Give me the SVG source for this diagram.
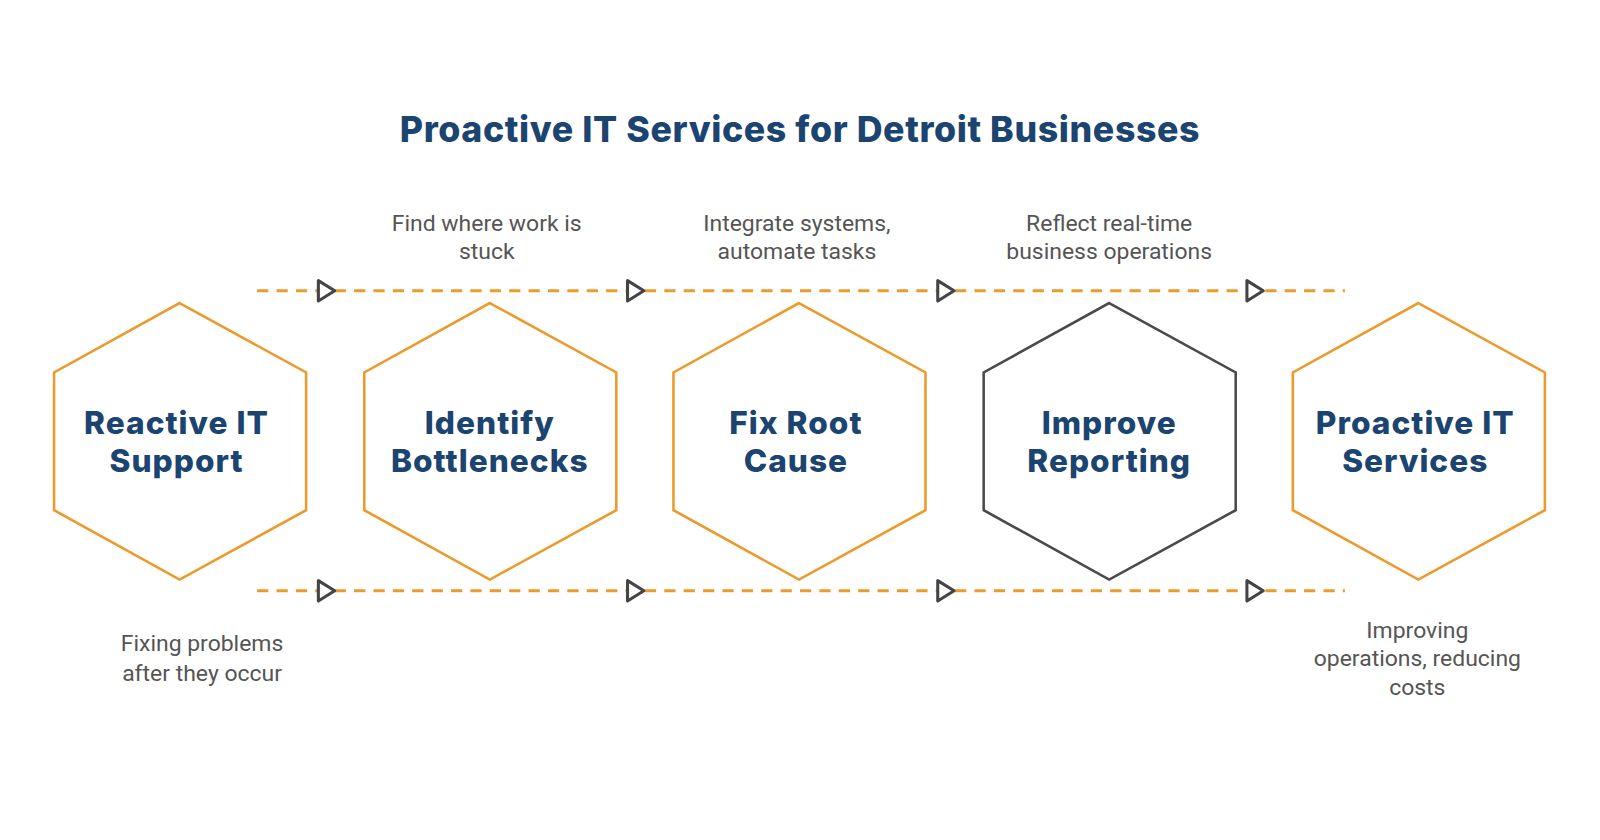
<svg xmlns="http://www.w3.org/2000/svg" width="1600" height="840" viewBox="0 0 1600 840">
<style>
.hex{fill:#fff;stroke:#ec9a2c;stroke-width:2.5}
.hexd{fill:#fff;stroke:#4a4a4a;stroke-width:2.5}
.lbl{font-family:Inter,"Open Sans",sans-serif;font-weight:800;font-size:31px;letter-spacing:1px;fill:#1b4470;text-anchor:middle}
.cap{font-family:Roboto,sans-serif;font-size:22.5px;fill:#555;text-anchor:middle}
.dash{stroke:#ec9a2c;stroke-width:3;stroke-dasharray:11 8;fill:none}
.tri{fill:#fff;stroke:#444;stroke-width:3;stroke-linejoin:round}
</style>
<rect width="1600" height="840" fill="#fff"/>
<g transform="scale(1.0204)">
<text x="784" y="139" style="font-family:Inter,'Open Sans',sans-serif;font-weight:800;font-size:35px;letter-spacing:0.6px;fill:#1b4470" text-anchor="middle">Proactive IT Services for Detroit Businesses</text>
<g id="connectors">
<line class="dash" x1="252" y1="285" x2="1318" y2="285"/>
<line class="dash" x1="252" y1="579" x2="1318" y2="579"/>
<path class="tri" d="M312 275 L328 285 L312 295 Z"/>
<path class="tri" d="M615 275 L631 285 L615 295 Z"/>
<path class="tri" d="M919 275 L935 285 L919 295 Z"/>
<path class="tri" d="M1222 275 L1238 285 L1222 295 Z"/>
<path class="tri" d="M312 569 L328 579 L312 589 Z"/>
<path class="tri" d="M615 569 L631 579 L615 589 Z"/>
<path class="tri" d="M919 569 L935 579 L919 589 Z"/>
<path class="tri" d="M1222 569 L1238 579 L1222 589 Z"/>
</g>
<g id="n1">
<path class="hex" d="M176 297 L300 365 L300 500 L176 568 L53 500 L53 365 Z"/>
<text class="lbl" x="173" y="425">Reactive IT</text><text class="lbl" x="173" y="463">Support</text>
<text class="cap" x="198" y="638">Fixing problems</text><text class="cap" x="198" y="667">after they occur</text>
</g>
<g id="n2">
<path class="hex" d="M480 297 L604 365 L604 500 L480 568 L357 500 L357 365 Z"/>
<text class="lbl" x="480" y="425">Identify</text><text class="lbl" x="480" y="463">Bottlenecks</text>
<text class="cap" x="477" y="226">Find where work is</text><text class="cap" x="477" y="254">stuck</text>
</g>
<g id="n3">
<path class="hex" d="M783 297 L907 365 L907 500 L783 568 L660 500 L660 365 Z"/>
<text class="lbl" x="780" y="425">Fix Root</text><text class="lbl" x="780" y="463">Cause</text>
<text class="cap" x="781" y="226">Integrate systems,</text><text class="cap" x="781" y="254">automate tasks</text>
</g>
<g id="n4">
<path class="hexd" d="M1087 297 L1211 365 L1211 500 L1087 568 L964 500 L964 365 Z"/>
<text class="lbl" x="1087" y="425">Improve</text><text class="lbl" x="1087" y="463">Reporting</text>
<text class="cap" x="1087" y="226">Reflect real-time</text><text class="cap" x="1087" y="254">business operations</text>
</g>
<g id="n5">
<path class="hex" d="M1390 297 L1514 365 L1514 500 L1390 568 L1267 500 L1267 365 Z"/>
<text class="lbl" x="1387" y="425">Proactive IT</text><text class="lbl" x="1387" y="463">Services</text>
<text class="cap" x="1389" y="625">Improving</text><text class="cap" x="1389" y="653">operations, reducing</text><text class="cap" x="1389" y="681">costs</text>
</g>
</g>
</svg>
